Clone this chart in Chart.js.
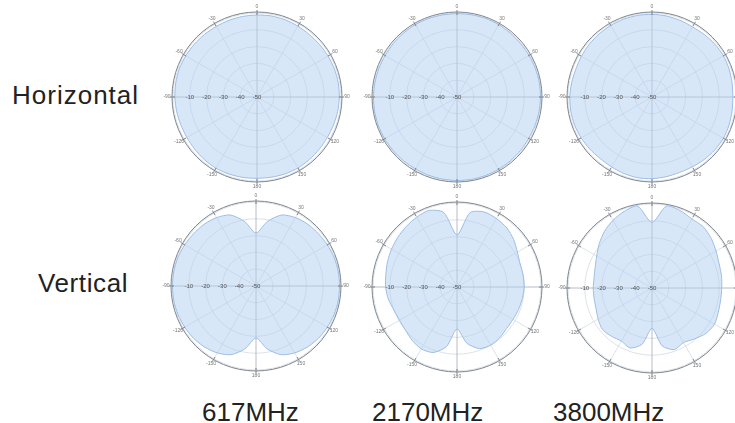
<!doctype html>
<html>
<head>
<title>Radiation patterns</title>
<script src="https://cdn.jsdelivr.net/npm/chart.js@4.4.1/dist/chart.umd.min.js"></script>
<style>
body { margin: 0; background: #fff; width: 735px; height: 423px; position: relative; overflow: hidden; font-family: "Liberation Sans", Arial, sans-serif; }
.lbl { position: absolute; font-size: 26px; line-height: 26px; color: #222; white-space: nowrap; }
canvas { position: absolute; }
</style>
</head>
<body>
<div class="lbl" style="left:12px;top:82px;letter-spacing:1px">Horizontal</div>
<div class="lbl" style="left:38px;top:270px;letter-spacing:0.6px">Vertical</div>
<div class="lbl" style="left:202px;top:399px">617MHz</div>
<div class="lbl" style="left:372px;top:399px">2170MHz</div>
<div class="lbl" style="left:553px;top:399px">3800MHz</div>

<canvas id="h617" width="190" height="190" style="left:162px;top:2px"></canvas>
<canvas id="h2170" width="190" height="190" style="left:362px;top:2px"></canvas>
<canvas id="h3800" width="190" height="190" style="left:557px;top:2px"></canvas>
<canvas id="v617" width="190" height="190" style="left:161px;top:191px"></canvas>
<canvas id="v2170" width="190" height="190" style="left:362px;top:192px"></canvas>
<canvas id="v3800" width="190" height="190" style="left:557px;top:193px"></canvas>

<script>
// azimuth / elevation angle in degrees, 10 degree steps
const angles = [0,10,20,30,40,50,60,70,80,90,100,110,120,130,140,150,160,170,
	180,190,200,210,220,230,240,250,260,270,280,290,300,310,320,330,340,350];
const angleLabels = ['0','30','60','90','120','150','180','-150','-120','-90','-60','-30'];
const rangeTicks = [-50, -40, -30, -20, -10];

// gain in dB
const horiz617 = [-1.2,-1.0,-1.1,-1.3,-1.5,-1.4,-1.2,-1.0,-0.9,-1.0,-1.2,-1.5,-1.7,-1.6,-1.4,-1.2,-1.3,-1.5,
	-1.6,-1.4,-1.2,-1.1,-1.3,-1.6,-1.8,-1.7,-1.4,-1.1,-0.9,-0.8,-1.0,-1.2,-1.4,-1.5,-1.4,-1.3];
const horiz2170 = [-0.4,-0.3,-0.2,-0.3,-0.5,-0.6,-0.5,-0.4,-0.3,-0.3,-0.4,-0.6,-0.7,-0.6,-0.5,-0.4,-0.3,-0.2,
	-0.3,-0.4,-0.5,-0.6,-0.5,-0.4,-0.3,-0.2,-0.2,-0.3,-0.4,-0.5,-0.6,-0.5,-0.4,-0.3,-0.3,-0.4];
const horiz3800 = [-0.8,-1.0,-1.4,-1.8,-1.5,-1.1,-0.9,-1.2,-1.6,-1.9,-1.6,-1.2,-0.9,-1.1,-1.5,-2.0,-2.2,-1.8,
	-1.4,-1.2,-1.5,-1.9,-2.1,-1.7,-1.3,-1.0,-0.9,-1.1,-1.4,-1.7,-1.5,-1.2,-1.0,-0.8,-0.7,-0.7];
const vert617 = [-18.5,-11,-5,-3,-2,-1.5,-1,-0.5,-0.3,-0.3,-0.3,-0.5,-1,-1.5,-2.5,-4,-6.5,-12,
	-19,-12,-6.5,-4,-2.5,-1.5,-1,-0.5,-0.3,-0.3,-0.3,-0.5,-1,-1.5,-2,-3,-5,-11];
const vert2170 = [-19,-5,-2.5,-3,-4,-6,-8.5,-10,-10,-10,-10.5,-11,-11.5,-11.5,-10.5,-10,-11,-16,
	-25,-14,-8.5,-7.5,-8.5,-10,-10.5,-10,-8.5,-7.5,-7,-6,-5,-4,-3,-2,-1.5,-5];
const vert3800 = [-11,-0.5,-1,-2.5,-2.5,-4,-6,-7.5,-8,-8.5,-8.5,-8,-7,-8,-10.5,-12.5,-11,-15,
	-26,-16,-12,-13.5,-12.5,-11.5,-13,-14.5,-15,-15,-15,-14,-12,-9,-6,-3.5,-1.5,-0.5];

const polarFrame = {
	id: 'polarFrame',
	afterDatasetsDraw(chart) {
		const s = chart.scales.r;
		const ctx = chart.ctx;
		const R = s.drawingArea;
		ctx.save();
		ctx.strokeStyle = '#7d848c';
		ctx.lineWidth = 1;
		ctx.beginPath();
		ctx.arc(s.xCenter, s.yCenter, R + 1, 0, Math.PI * 2);
		ctx.stroke();
		ctx.font = '5px "Liberation Sans"';
		ctx.fillStyle = '#777';
		ctx.textAlign = 'center';
		ctx.textBaseline = 'middle';
		angleLabels.forEach((t, i) => {
			const a = s.getPointPosition(i * 3, R - 2);
			const b = s.getPointPosition(i * 3, R + 3);
			ctx.beginPath();
			ctx.moveTo(a.x, a.y);
			ctx.lineTo(b.x, b.y);
			ctx.stroke();
			const p = s.getPointPosition(i * 3, R + 6);
			ctx.fillText(t, p.x, p.y);
		});
		// range labels along the left axis
		ctx.font = '6px "Liberation Sans"';
		ctx.fillStyle = '#555';
		rangeTicks.forEach((v) => {
			const p = s.getPointPosition(27, s.getDistanceFromCenterForValue(v));
			ctx.fillText(String(v), p.x, p.y);
		});
		ctx.restore();
	}
};

function makePolar(id, values) {
	new Chart(document.getElementById(id), {
		type: 'radar',
		data: {
			labels: angles.map(String),
			datasets: [{
				data: values,
				borderColor: '#9cbde4',
				borderWidth: 1,
				backgroundColor: 'rgba(178,208,242,0.5)',
				pointRadius: 0,
				tension: 0.25,
				fill: 'start'
			}]
		},
		options: {
			responsive: false,
			animation: false,
			layout: { padding: 11 },
			plugins: { legend: { display: false }, tooltip: { enabled: false } },
			scales: {
				r: {
					min: -50,
					max: 0,
					ticks: { display: false, stepSize: 10 },
					pointLabels: { display: false },
					grid: { circular: true, color: '#d3dae3', lineWidth: 0.8 },
					angleLines: {
						color: (c) => (c.index % 9 === 0 ? '#a3abb5' : (c.index % 3 === 0 ? '#d3dae3' : 'transparent')),
						lineWidth: 0.8
					}
				}
			}
		},
		plugins: [polarFrame]
	});
}

makePolar('h617', horiz617);
makePolar('h2170', horiz2170);
makePolar('h3800', horiz3800);
makePolar('v617', vert617);
makePolar('v2170', vert2170);
makePolar('v3800', vert3800);
</script>
</body>
</html>
